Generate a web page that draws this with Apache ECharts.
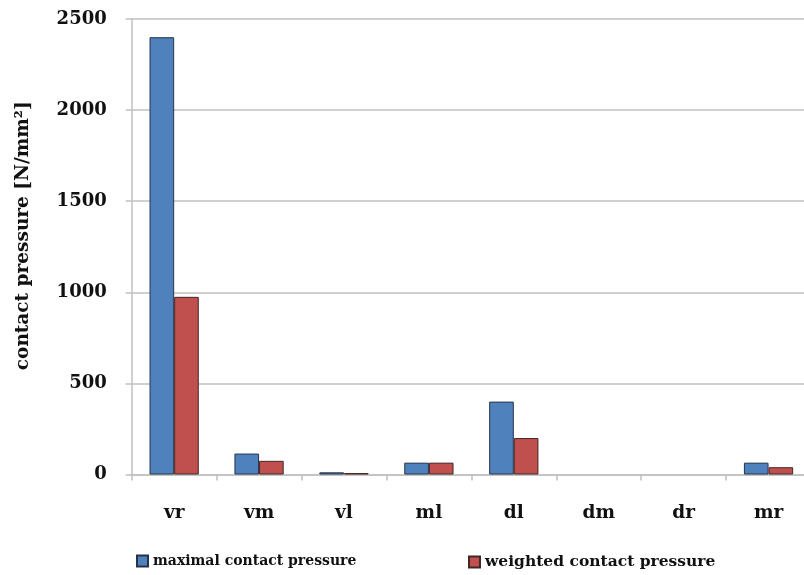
<!DOCTYPE html>
<html>
<head>
<meta charset="utf-8">
<script src="https://cdn.jsdelivr.net/npm/echarts@6/dist/echarts.min.js"></script>
<style>html,body{margin:0;padding:0;background:#fff;overflow:hidden;width:804px;height:575px}#c{width:811px;height:575px}</style>
</head>
<body>
<div id="c"></div>
<script>
var categories = ['vr', 'vm', 'vl', 'ml', 'dl', 'dm', 'dr', 'mr'];
var maximalPressure = [2400, 115, 12, 65, 400, 0, 0, 65];
var weightedPressure = [975, 75, 8, 65, 200, 0, 0, 40];
var yTicks = [0, 500, 1000, 1500, 2000, 2500];
var seriesNames = ['maximal contact pressure', 'weighted contact pressure'];
var yAxisName = 'contact pressure [N/mm\u00B2]';

var font = 'DejaVu Serif';
function toData(arr) {
  return arr.map(function (v) {
    return v === 0 ? {value: v, itemStyle: {borderWidth: 0}} : v;
  });
}
var chart = echarts.init(document.getElementById('c'), null, {renderer: 'canvas'});
var legendText = {fontFamily: font, fontWeight: 'bold', fontSize: 14, color: '#111'};
chart.setOption({
  animation: false,
  backgroundColor: '#fff',
  grid: {left: 131.7, top: 19, bottom: 100.5, right: 0, containLabel: false},
  legend: [
    {data: [seriesNames[0]], left: 136, top: 554, padding: 0, itemWidth: 11, itemHeight: 11, itemGap: 3, textStyle: legendText, icon: 'rect'},
    {data: [seriesNames[1]], left: 468, top: 554, padding: 0, itemWidth: 11, itemHeight: 11, itemGap: 3,
     textStyle: Object.assign({}, legendText, {fontSize: 15.5}), icon: 'rect'}
  ],
  xAxis: {
    type: 'category',
    data: categories,
    axisLine: {lineStyle: {color: '#c0c0c0', width: 1.5}},
    axisTick: {show: true, length: 6, lineStyle: {color: '#c0c0c0', width: 1.5}},
    axisLabel: {margin: 29, fontFamily: font, fontWeight: 'bold', fontSize: 18.5, color: '#111'}
  },
  yAxis: {
    type: 'value',
    min: yTicks[0],
    max: yTicks[yTicks.length - 1],
    interval: yTicks[1] - yTicks[0],
    name: yAxisName,
    nameLocation: 'middle',
    nameGap: 99,
    nameRotate: 90,
    nameTextStyle: {fontFamily: font, fontWeight: 'bold', fontSize: 18.5, color: '#111', padding: [0, 0, 0, 22]},
    axisLine: {show: true, lineStyle: {color: '#c0c0c0', width: 1.5}},
    axisTick: {show: true, length: 6, lineStyle: {color: '#c0c0c0', width: 1.5}},
    splitLine: {lineStyle: {color: '#c0c0c0', width: 1.5}},
    axisLabel: {margin: 25, fontFamily: font, fontWeight: 'bold', fontSize: 18, color: '#111',
      formatter: function (v) { return String(v); }}
  },
  series: [
    {name: seriesNames[0], type: 'bar', data: toData(maximalPressure), barGap: '0%', barCategoryGap: '42%',
     itemStyle: {color: '#4f81bd', borderColor: '#253349', borderWidth: 1}},
    {name: seriesNames[1], type: 'bar', data: toData(weightedPressure), barGap: '0%', barCategoryGap: '42%',
     itemStyle: {color: '#c0504d', borderColor: '#432626', borderWidth: 1}}
  ]
});
</script>
</body>
</html>
